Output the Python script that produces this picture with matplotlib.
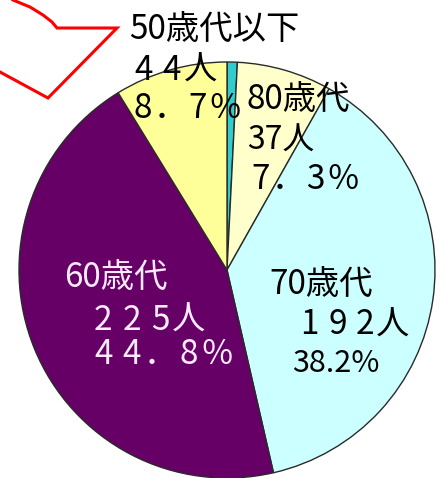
import matplotlib
matplotlib.use("Agg")
import matplotlib.pyplot as plt
from matplotlib.lines import Line2D

plt.rcParams['font.family'] = ['Noto Sans CJK JP', 'DejaVu Sans']

# Data (clockwise from 12 o'clock)
categories = ['90歳代以上', '80歳代', '70歳代', '60歳代', '50歳代以下']
counts = [4, 37, 192, 225, 44]
percent_labels = ['', '7．3％', '38.2%', '44．8％', '8．7％']
colors = ['#33CCCC', '#FFFFCC', '#CCFFFF', '#660066', '#FFFF99']

W, H = 446, 478
fig = plt.figure(figsize=(W / 100, H / 100), dpi=100)
ax = fig.add_axes([0, 0, 1, 1])

cx, cy, r = 227, 270, 208
ax.pie(counts, colors=colors, startangle=90, counterclock=False,
       center=(cx, H - cy), radius=r, frame=True,
       wedgeprops=dict(edgecolor='#2a2a2a', linewidth=1.0))
ax.set_xlim(0, W)
ax.set_ylim(0, H)
ax.set_aspect('equal')
ax.axis('off')


def txt(x, y, s, size, color='black'):
    ax.text(x, H - y, s, fontsize=size, color=color, ha='left', va='center')


def mono(x, y, s, size, pitch, color='black'):
    """Fixed-pitch text: each character centred in its own cell."""
    for i, ch in enumerate(s):
        ax.text(x + pitch * (i + 0.5), H - y, ch, fontsize=size, color=color,
                ha='center', va='center')


# 50歳代以下
txt(129, 29, categories[4], 24)
mono(129, 70, f'{counts[4]}人', 24, 28.5)
mono(129, 108, percent_labels[4], 24, 27.5)
# 80歳代
txt(247, 99, categories[1], 24)
txt(247, 141, f'{counts[1]}人', 23)
mono(247, 179, percent_labels[1], 24, 27.5)
# 70歳代
txt(269, 284, categories[2], 24)
mono(296, 325, f'{counts[2]}人', 24, 27.5)
txt(292, 364, percent_labels[2], 22)
# 60歳代
pink = '#FFEAFF'
txt(64, 277, categories[3], 24, pink)
mono(89, 320, f'{counts[3]}人', 24, 28.5, pink)
mono(89, 354, percent_labels[3], 24, 28.5, pink)

# Red callout outline (partially visible)
pts = [(13, 0), (30, 7), (43, 15), (52, 22), (57, 28), (117, 28), (48, 98), (0, 72)]
ax.add_line(Line2D([p[0] for p in pts], [H - p[1] for p in pts],
                   color='#FF0000', linewidth=2.2, solid_joinstyle='miter'))

fig.savefig('out.png', dpi=100, facecolor='white')
